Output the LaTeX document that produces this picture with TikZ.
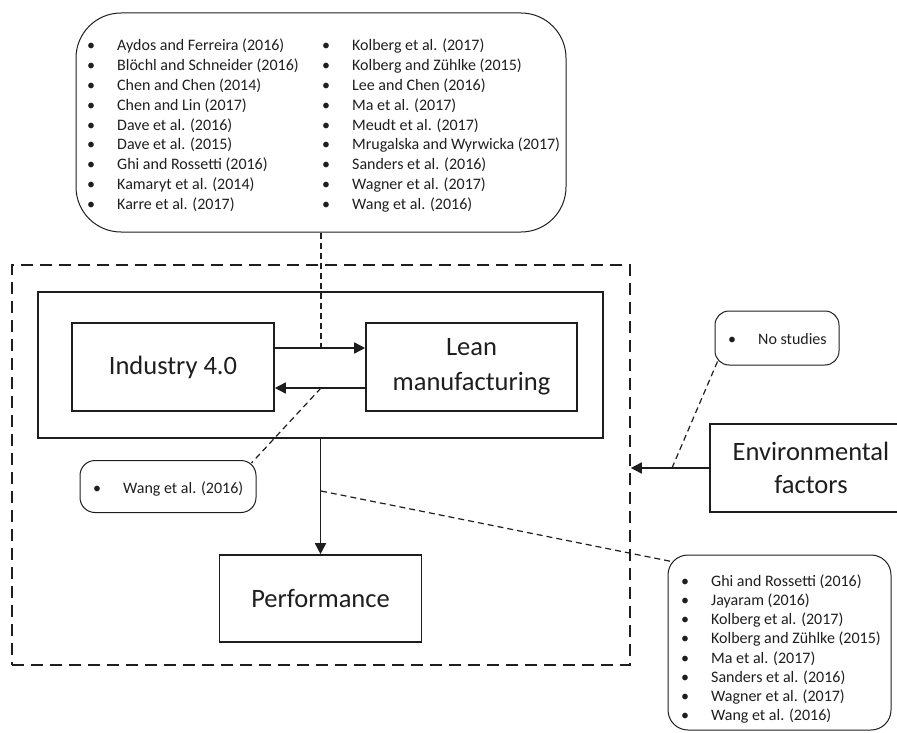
\documentclass[tikz,border=0pt]{standalone}
\usepackage{fontspec}
\setmainfont{Carlito}
\usetikzlibrary{arrows.meta}

\definecolor{ink}{HTML}{1E1E1E}

\tikzset{
  solidbox/.style={draw=ink, line width=1.6pt, inner sep=0pt, align=center,
    font=\fontsize{26.5}{35}\selectfont, text=ink},
  callout/.style={draw=ink, line width=1pt, inner sep=0pt},
  leader/.style={draw=ink, line width=1.2pt, dash pattern=on 6pt off 4pt},
  frameline/.style={draw=ink, line width=1.6pt, dash pattern=on 12pt off 7pt, inner sep=0pt},
  arr/.style={draw=ink, line width=1.6pt, -{Triangle[length=11pt,width=11pt]}},
  item/.style={anchor=base west, inner sep=0pt, text=ink,
    font=\fontsize{16}{18}\selectfont},
}

\newcommand{\bul}[1]{\makebox[30pt][l]{\textbullet}#1}

\begin{document}
\begin{tikzpicture}[x=1pt,y=-1pt]
  \useasboundingbox (0,0) rectangle (897,733);

  % model frame and boxes
  \node[frameline, minimum width=618, minimum height=400] (frame) at (321,465) {};
  \node[solidbox, minimum width=565, minimum height=146] (inner) at (320.5,365) {};
  \node[solidbox, minimum width=202, minimum height=88] (ind) at (173,367) {Industry 4.0};
  \node[solidbox, minimum width=211, minimum height=88] (lean) at (471.5,367) {Lean\\manufacturing};
  \node[solidbox, minimum width=202, minimum height=87] (perf) at (320.5,598.5) {Performance};
  \node[solidbox, minimum width=202, minimum height=88, font=\fontsize{26.5}{33}\selectfont] (env) at (811,468) {Environmental\\factors};

  % literature call-outs
  \node[callout, rounded corners=45pt, minimum width=490, minimum height=219] (tops) at (321,122.5) {};
  \node[callout, rounded corners=15pt, minimum width=176, minimum height=52] (wang) at (168,486.5) {};
  \node[callout, rounded corners=14pt, minimum width=124, minimum height=54] (nost) at (777,338) {};
  \node[callout, rounded corners=20pt, minimum width=223, minimum height=175] (brbox) at (779.5,642.5) {};

  \foreach \t [count=\i] in {Aydos and Ferreira (2016), Blöchl and Schneider (2016),
      Chen and Chen (2014), Chen and Lin (2017), Dave et al. (2016), Dave et al. (2015),
      Ghi and Rossetti (2016), Kamaryt et al. (2014), Karre et al. (2017)}
    \node[item] (la\i) at (87,{50.5+19.9*(\i-1)}) {\bul{\t}};
  \foreach \t [count=\i] in {Kolberg et al. (2017), Kolberg and Zühlke (2015),
      Lee and Chen (2016), Ma et al. (2017), Meudt et al. (2017),
      Mrugalska and Wyrwicka (2017), Sanders et al. (2016), Wagner et al. (2017),
      Wang et al. (2016)}
    \node[item] (lb\i) at (322,{50.5+19.9*(\i-1)}) {\bul{\t}};
  \foreach \t [count=\i] in {Ghi and Rossetti (2016), Jayaram (2016), Kolberg et al. (2017),
      Kolberg and Zühlke (2015), Ma et al. (2017), Sanders et al. (2016),
      Wagner et al. (2017), Wang et al. (2016)}
    \node[item] (lc\i) at (681,{586.5+19.14*(\i-1)}) {\bul{\t}};
  \node[item] (lw) at (93,493.5) {\bul{Wang et al. (2016)}};
  \node[item] (ln) at (728,344.5) {\bul{No studies}};

  % relations
  \draw[arr] ([yshift=19pt]ind.east) -- ([yshift=19pt]lean.west);
  \draw[arr] ([yshift=-21pt]lean.west) -- ([yshift=-21pt]ind.east);
  \draw[arr] (inner.south) -- (perf.north);
  \draw[arr] (env.west) -- (env.west -| frame.east);

  % leaders from the call-outs
  \coordinate (j1) at (321,348);
  \coordinate (j2) at (321,388);
  \coordinate (j3) at (672,468);
  \coordinate (j4) at (321,491);
  \draw[leader] (tops.south) -- (j1);
  \draw[leader] (j2) -- ([xshift=-5pt,yshift=-3pt]wang.north east);
  \draw[leader] ([xshift=3pt,yshift=4pt]nost.south west) -- (j3);
  \draw[leader] (j4) -- ([xshift=4pt,yshift=-7pt]brbox.north west);
\end{tikzpicture}
\end{document}
